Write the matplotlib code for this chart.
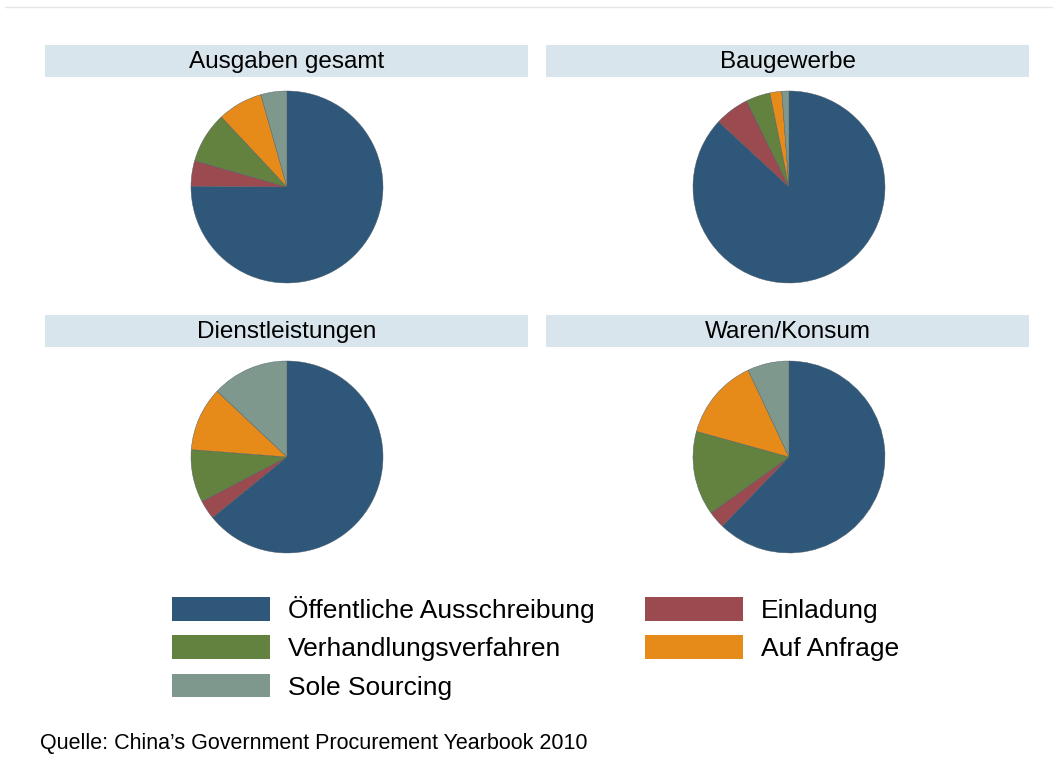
import matplotlib
matplotlib.use("Agg")
import matplotlib.pyplot as plt
from matplotlib.patches import Rectangle, Patch

plt.rcParams["font.family"] = ["Liberation Sans", "DejaVu Sans"]

# Anteile in Prozent, je Bereich
methods = [
    "Öffentliche Ausschreibung",
    "Einladung",
    "Verhandlungsverfahren",
    "Auf Anfrage",
    "Sole Sourcing",
]
colors = ["#2f5779", "#9b4a50", "#63823f", "#e68b1a", "#7e988d"]

panels = ["Ausgaben gesamt", "Baugewerbe", "Dienstleistungen", "Waren/Konsum"]
ausgaben_gesamt = [75.2, 4.3, 8.6, 7.6, 4.4]
baugewerbe = [86.9, 5.8, 4.1, 2.0, 1.2]
dienstleistungen = [64.2, 3.2, 8.9, 10.8, 13.0]
waren_konsum = [62.2, 2.9, 14.2, 13.7, 7.0]
shares = [ausgaben_gesamt, baugewerbe, dienstleistungen, waren_konsum]

W, H = 1053, 769
fig = plt.figure(figsize=(W / 100, H / 100), dpi=100)


def fx(px):
    return px / W


def fy(py):
    return 1 - py / H


# thin line at the top
fig.add_artist(plt.Line2D([fx(5), fx(1053)], [fy(7), fy(7)], color="#e6e6e6", lw=1))

bar_x = [45, 546]
bar_w = 483
bar_y = [45, 315]
bar_h = 32
centers_x = [287, 789]
centers_y = [187, 457]
radius = 96

for i, (name, vals) in enumerate(zip(panels, shares)):
    col, row = i % 2, i // 2
    x0, y0 = bar_x[col], bar_y[row]
    fig.add_artist(Rectangle((fx(x0), fy(y0 + bar_h)), fx(bar_w), bar_h / H,
                             transform=fig.transFigure, facecolor="#d9e5ec",
                             edgecolor="none"))
    fig.text(fx(x0 + bar_w / 2), fy(y0 + bar_h / 2 + 1), name, ha="center",
             va="center", fontsize=17.5)

    cx, cy = centers_x[col], centers_y[row]
    ax = fig.add_axes([fx(cx - radius), fy(cy + radius), fx(2 * radius), 2 * radius / H])
    ax.pie(vals, colors=colors, startangle=90, counterclock=False, radius=1,
           wedgeprops={"linewidth": 0.3, "edgecolor": "#4a5a66"})
    ax.set_xlim(-1.0, 1.0)
    ax.set_ylim(-1.0, 1.0)
    ax.set_aspect("equal")
    ax.axis("off")

order = [0, 2, 4, 1, 3]
handles = [Patch(facecolor=colors[k], edgecolor="none", label=methods[k]) for k in order]
fig.legend(handles=handles, ncol=2, loc="upper left",
           bbox_to_anchor=(fx(172), fy(596)), frameon=False, fontsize=19,
           borderpad=0, borderaxespad=0,
           handlelength=3.71, handleheight=1.0, handletextpad=0.68,
           labelspacing=0.47, columnspacing=1.93)

fig.text(fx(40), fy(744), "Quelle: China\u2019s Government Procurement Yearbook 2010",
         ha="left", va="center", fontsize=15.5)

fig.savefig("out.png", dpi=100)
